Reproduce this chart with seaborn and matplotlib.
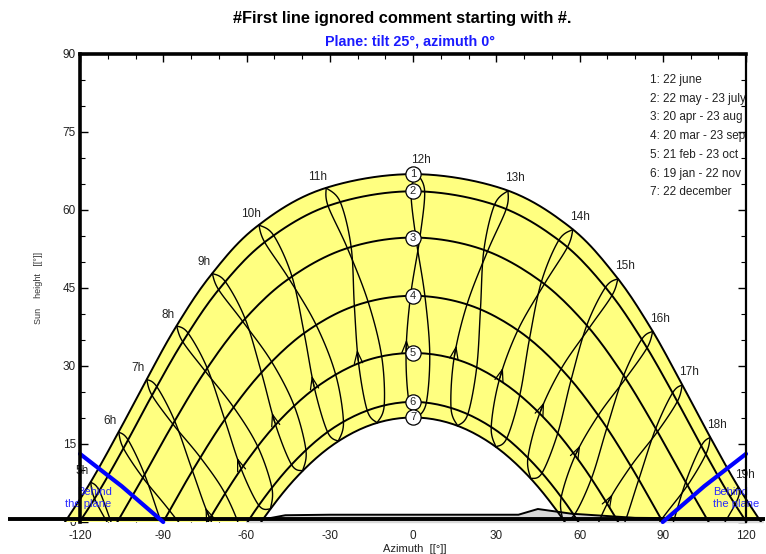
import numpy as np
import pandas as pd
import matplotlib
matplotlib.use('Agg')
import matplotlib.pyplot as plt
import seaborn as sns
from matplotlib.patches import Rectangle

# sun path per date curve, one point per solar hour (azimuth, height in deg)
az_1 = [-127.4, -116.7, -106.6, -96.5, -85.8, -73.1, -56.6, -32.8, 0, 32.8, 56.6, 73.1, 85.8, 96.5, 106.6, 116.7, 127.4]
h_1 = [-1.6, 7.2, 16.8, 26.9, 37.2, 47.3, 56.7, 64.0, 66.9, 64.0, 56.7, 47.3, 37.2, 26.9, 16.8, 7.2, -1.6]
az_2 = [-125.4, -114.5, -104.1, -93.8, -82.7, -69.7, -53.0, -30.0, 0, 30.0, 53.0, 69.7, 82.7, 93.8, 104.1, 114.5, 125.4]
h_2 = [-4.2, 4.7, 14.4, 24.6, 34.9, 44.9, 54.0, 60.9, 63.6, 60.9, 54.0, 44.9, 34.9, 24.6, 14.4, 4.7, -4.2]
az_3 = [-108.6, -97.8, -87.0, -75.4, -62.0, -45.5, -24.6, 0, 24.6, 45.5, 62.0, 75.4, 87.0, 97.8, 108.6]
h_3 = [-1.9, 8.1, 18.4, 28.6, 38.2, 46.5, 52.5, 54.7, 52.5, 46.5, 38.2, 28.6, 18.4, 8.1, -1.9]
az_4 = [-101.0, -90.0, -79.0, -67.3, -54.0, -38.5, -20.3, 0, 20.3, 38.5, 54.0, 67.3, 79.0, 90.0, 101.0]
h_4 = [-10.3, 0.0, 10.3, 20.1, 29.1, 36.6, 41.7, 43.5, 41.7, 36.6, 29.1, 20.1, 10.3, 0.0, -10.3]
az_5 = [-93.2, -82.4, -71.6, -60.2, -47.6, -33.3, -17.2, 0, 17.2, 33.3, 47.6, 60.2, 71.6, 82.4, 93.2]
h_5 = [-18.3, -8.0, 2.1, 11.5, 19.8, 26.5, 31.0, 32.5, 31.0, 26.5, 19.8, 11.5, 2.1, -8.0, -18.3]
az_6 = [-75.6, -65.3, -54.5, -42.6, -29.5, -15.1, 0, 15.1, 29.5, 42.6, 54.5, 65.3, 75.6]
h_6 = [-14.7, -4.9, 4.0, 11.7, 17.8, 21.7, 23.1, 21.7, 17.8, 11.7, 4.0, -4.9, -14.7]
az_7 = [-73.4, -63.3, -52.6, -41.1, -28.4, -14.5, 0, 14.5, 28.4, 41.1, 52.6, 63.3, 73.4]
h_7 = [-16.8, -7.2, 1.6, 9.1, 15.0, 18.8, 20.1, 18.8, 15.0, 9.1, 1.6, -7.2, -16.8]
first_hour = [4, 4, 5, 5, 5, 6, 6]

# where the clock hour sits on each date curve, in minutes (jan->jun side, jul->dec side)
shift_first_half = [3.1, 8.3, 6.0, -2.6, -8.7, -5.7, 6.6]
shift_second_half = [3.1, -1.4, 2.5, 12.6, 20.9, 19.0, 6.6]
hours = list(range(5, 20))

date_labels = ['1: 22 june', '2: 22 may - 23 july', '3: 20 apr - 23 aug', '4: 20 mar - 23 sep',
               '5: 21 feb - 23 oct', '6: 19 jan - 22 nov', '7: 22 december']

# far horizon profile
horizon_az = [-60, -53, -46, -30, 38, 45, 57, 80, 126]
horizon_h = [0.6, 0.6, 1.3, 1.4, 1.4, 2.5, 1.6, 0.8, 0.6]

# "behind the plane" limit for tilt 25
behind_az_left = [-120, -105, -90]
behind_h_left = [13.1, 6.9, 0.0]
behind_az_right = [90, 105, 120]
behind_h_right = [0.0, 6.9, 13.1]

curves = [(az_1, h_1), (az_2, h_2), (az_3, h_3), (az_4, h_4), (az_5, h_5), (az_6, h_6), (az_7, h_7)]


def _cr(p0, p1, p2, p3, t):
    return 0.5 * (2 * p1 + (p2 - p0) * t + (2 * p0 - 5 * p1 + 4 * p2 - p3) * t ** 2
                  + (-p0 + 3 * p1 - 3 * p2 + p3) * t ** 3)


def spline_at(xs, ys, s):
    P = np.column_stack([xs, ys]).astype(float)
    P = np.vstack([P[0], P, P[-1]])
    i = int(min(max(np.floor(s), 0), len(xs) - 2))
    t = s - i
    return _cr(P[i], P[i + 1], P[i + 2], P[i + 3], t)


def smooth(xs, ys, n=12):
    P = np.column_stack([xs, ys]).astype(float)
    P = np.vstack([P[0], P, P[-1]])
    t = np.linspace(0, 1, n, endpoint=False)[:, None]
    out = [_cr(P[i], P[i + 1], P[i + 2], P[i + 3], t) for i in range(len(xs) - 1)]
    out.append(P[-2:-1])
    return np.vstack(out)


sns.set_style('white')
plt.rcParams['font.family'] = ['Liberation Sans', 'DejaVu Sans']
plt.rcParams['axes.unicode_minus'] = False

fig = plt.figure(figsize=(7.66, 5.54), dpi=100)
ax = fig.add_axes([80 / 766, 1 - 522 / 554, 666 / 766, 468 / 554])
ax.set_xlim(-120, 120)
ax.set_ylim(0, 90)

clip_rect = Rectangle((-140, 0), 280, 100, transform=ax.transData)

# yellow band between june and december paths
outer = smooth(az_1, h_1)
inner = smooth(az_7, h_7)
band = np.vstack([outer, inner[::-1]])
for p in ax.fill(band[:, 0], band[:, 1], color='#ffff80', lw=0, zorder=1):
    p.set_clip_path(clip_rect)

# horizon
ax.fill_between(horizon_az, horizon_h, 0, color='#d9d9d9', zorder=2, clip_on=False)
ax.plot(horizon_az, horizon_h, color='black', lw=1.4, zorder=2.5, clip_on=False)
ax.plot([-146, 127], [0.6, 0.6], color='black', lw=2.8, zorder=2.6, clip_on=False,
        solid_capstyle='butt')

# hour lines (two branches per hour)
for k in hours:
    for shifts, order in [(shift_first_half, [6, 5, 4, 3, 2, 1, 0]),
                          (shift_second_half, [0, 1, 2, 3, 4, 5, 6])]:
        marks = []
        for d in order:
            az, h = curves[d]
            s = (k - first_hour[d]) + shifts[d] / 60.0
            if 0 <= s <= len(az) - 1:
                marks.append((d, spline_at(az, h, s)))
        if len(marks) < 2:
            continue
        mx = [m[1][0] for m in marks]
        my = [m[1][1] for m in marks]
        pts = smooth(mx, my, 10)
        ln, = ax.plot(pts[:, 0], pts[:, 1], color='black', lw=1.0, zorder=3)
        ln.set_clip_path(clip_rect)
        # arrow on the rising (jan -> jun) branch, just above date 5
        if shifts is shift_first_half:
            ids = [m[0] for m in marks]
            if 4 in ids and 3 in ids:
                j = ids.index(4)
                a0 = spline_at(mx, my, j + 0.05)
                a1 = spline_at(mx, my, j + 0.25)
                if a0[1] > 0.5 and abs(a1[0]) < 118:
                    ax.annotate('', xy=a1, xytext=a0,
                                arrowprops=dict(arrowstyle='->,head_length=0.7,head_width=0.25',
                                                lw=0.9, color='black', mutation_scale=12,
                                                shrinkA=0, shrinkB=0),
                                zorder=3)

# date curves
frames = []
for i, (az, h) in enumerate(curves):
    pts = smooth(az, h)
    frames.append(pd.DataFrame({'az': pts[:, 0], 'h': pts[:, 1], 'curve': i + 1}))
paths = pd.concat(frames, ignore_index=True)
n0 = len(ax.lines)
sns.lineplot(data=paths, x='az', y='h', units='curve', estimator=None, sort=False,
             color='black', lw=1.4, ax=ax, legend=False, zorder=4)
for ln in ax.lines[n0:]:
    ln.set_clip_path(clip_rect)

# hour labels on the june path
for k in hours:
    s = (k - first_hour[0]) + shift_first_half[0] / 60.0
    p = spline_at(az_1, h_1, s)
    if k < 12:
        off = (-6, 8)
    elif k == 12:
        off = (2, 10)
    else:
        off = (5, 9)
    ax.annotate(f'{k}h', xy=p, xytext=off, textcoords='offset points', ha='center',
                va='center', fontsize=8.5, color='#222222', annotation_clip=False, zorder=7)

# numbered circles at noon
noon_h = [h[12 - first_hour[i]] for i, (az, h) in enumerate(curves)]
ax.scatter(np.zeros(7), noon_h, s=120, color='white', edgecolors='black', linewidths=0.9,
           zorder=6)
for i, hn in enumerate(noon_h):
    ax.text(0, hn, str(i + 1), ha='center', va='center', fontsize=8, zorder=7)

# behind the plane
ax.plot(behind_az_left, behind_h_left, color='#0000ff', lw=3, zorder=5, clip_on=False)
ax.plot(behind_az_right, behind_h_right, color='#0000ff', lw=3, zorder=5, clip_on=False)
ax.text(-108.6, 4.6, 'Behind\nthe plane', color='#2a2aff', fontsize=8, ha='right', va='center',
        multialignment='right', linespacing=1.25, zorder=5)
ax.text(108.1, 4.6, 'Behind\nthe plane', color='#2a2aff', fontsize=8, ha='left', va='center',
        multialignment='left', linespacing=1.25, zorder=5, clip_on=False)

# date legend
for i, lab in enumerate(date_labels):
    ax.text(85.5, 85.0 - 3.6 * i, lab, fontsize=8.5, color='#222222', va='center', ha='left',
            zorder=7)

# axes styling
ax.set_xticks(np.arange(-120, 121, 30))
ax.set_xticks(np.arange(-120, 121, 10), minor=True)
ax.set_yticks(np.arange(0, 91, 15))
ax.set_yticks(np.arange(0, 91, 5), minor=True)
ax.tick_params(which='both', direction='in', top=True, right=True, bottom=True, left=True,
               labelsize=8.5, labelcolor='#222222', color='black')
ax.tick_params(which='major', length=6, width=1)
ax.tick_params(which='minor', length=3.5, width=0.8)
ax.tick_params(axis='x', pad=6)
ax.tick_params(axis='y', pad=3)
ax.spines['bottom'].set_visible(False)
ax.spines['left'].set_linewidth(2.6)
ax.spines['top'].set_linewidth(2.6)
ax.spines['right'].set_linewidth(1.6)
for sp in ax.spines.values():
    sp.set_color('black')
    sp.set_zorder(8)

ax.set_xlabel('Azimuth  [[°]]', fontsize=8, color='#222222')
ax.xaxis.set_label_coords((415 - 80) / 666, -22 / 468)
ax.set_ylabel('Sun    height   [[°]]', fontsize=6.5, color='#333333')
ax.yaxis.set_label_coords(-37 / 666, 0.5)

fig.text(402 / 766, 1 - 18 / 554, '#First line ignored comment starting with #.',
         ha='center', va='center', fontsize=11.8, fontweight='bold', color='black')
fig.text(410 / 766, 1 - 42 / 554, 'Plane: tilt 25°, azimuth 0°', ha='center', va='center',
         fontsize=10.3, fontweight='bold', color='#1a1aff')

fig.savefig('out.png', dpi=100)
